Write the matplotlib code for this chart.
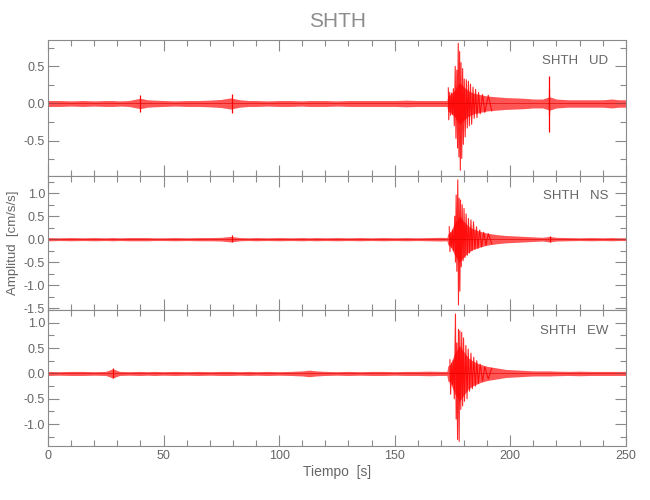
import numpy as np
import matplotlib
matplotlib.use("Agg")
import matplotlib.pyplot as plt
from matplotlib.ticker import MultipleLocator, FormatStrFormatter

plt.rcParams['font.family'] = ['Liberation Sans Narrow', 'Liberation Sans', 'DejaVu Sans']

# envelope knots (s) and half-width of the background trace per component
t_env = [0, 5, 10, 15, 20, 25, 28, 31, 35, 40, 43, 46, 50, 55, 60, 65, 70, 75,
         79, 83, 87, 90, 95, 100, 105, 110, 113, 116, 120, 125, 130, 135, 140,
         145, 150, 155, 160, 165, 170, 172.6, 173, 174, 176, 178, 180, 182, 184, 187,
         190, 194, 198, 202, 206, 210, 214, 217, 220, 225, 230, 235, 240, 244,
         247, 250]

ud_env = [0.04, 0.04, 0.035, 0.04, 0.035, 0.04,
          0.04, 0.035, 0.04,
          0.07, 0.05, 0.045,
          0.04, 0.035, 0.04, 0.04, 0.045, 0.055,
          0.075, 0.05, 0.04, 0.04, 0.035,
          0.04, 0.04, 0.035, 0.04, 0.04,
          0.04, 0.035, 0.04, 0.04, 0.04,
          0.04, 0.04, 0.045, 0.04, 0.04, 0.04, 0.04,
          0.10, 0.12, 0.18, 0.28, 0.22,
          0.17, 0.14, 0.12, 0.10, 0.09,
          0.08, 0.075, 0.07, 0.06, 0.06,
          0.09, 0.06, 0.05, 0.05, 0.05,
          0.05, 0.06, 0.05, 0.05]

ns_env = [0.035, 0.03, 0.035, 0.03, 0.035, 0.03,
          0.035, 0.03, 0.035,
          0.035, 0.035, 0.03,
          0.03, 0.035, 0.03, 0.035, 0.035, 0.04,
          0.06, 0.035, 0.03, 0.035, 0.03,
          0.035, 0.03, 0.035, 0.03, 0.035,
          0.03, 0.035, 0.03, 0.035, 0.03,
          0.035, 0.03, 0.035, 0.03, 0.035, 0.04, 0.035,
          0.12, 0.15, 0.35, 0.5, 0.38,
          0.28, 0.22, 0.17, 0.13, 0.10,
          0.08, 0.07, 0.06, 0.05, 0.04,
          0.06, 0.04, 0.035, 0.03, 0.035,
          0.03, 0.035, 0.03, 0.03]

ew_env = [0.04, 0.035, 0.04, 0.04, 0.035, 0.04,
          0.09, 0.04, 0.035,
          0.04, 0.035, 0.04,
          0.035, 0.04, 0.035, 0.04, 0.035, 0.04,
          0.04, 0.035, 0.04, 0.035, 0.04,
          0.035, 0.04, 0.05, 0.065, 0.05,
          0.04, 0.035, 0.04, 0.035, 0.04,
          0.04, 0.035, 0.04, 0.04, 0.045, 0.04, 0.04,
          0.15, 0.18, 0.40, 0.55, 0.42,
          0.30, 0.24, 0.18, 0.14, 0.11,
          0.08, 0.07, 0.06, 0.05, 0.05,
          0.05, 0.045, 0.04, 0.045, 0.04,
          0.04, 0.04, 0.04, 0.04]

# main event peaks (time s, amplitude cm/s/s)
ud_pk_t = [173.2, 173.4, 173.8, 174.2, 174.6, 175.0, 175.4, 175.8, 176.2, 176.5,
           176.9, 177.2, 177.5, 177.8, 178.1, 178.4, 178.7, 179.0, 179.4, 179.7,
           180.1, 180.5, 181.0, 181.4, 181.9, 182.3, 182.8, 183.3, 183.9, 184.4,
           185.0, 185.6, 186.3, 187.0, 188.0, 189.0, 190.5, 192.0]
ud_pk_v = [0.21, -0.22, 0.15, -0.16, 0.14, -0.15, 0.20, -0.30, 0.50, -0.47,
           0.45, -0.60, 0.81, -0.72, 0.70, -0.90, 0.55, -0.74, 0.47, -0.55,
           0.33, -0.45, 0.32, -0.33, 0.30, -0.30, 0.26, -0.28, 0.22, -0.20,
           0.19, -0.19, 0.15, -0.14, 0.12, -0.12, 0.11, -0.10]

ns_pk_t = [173.6, 173.9, 174.3, 174.7, 175.1, 175.5, 176.0, 176.3, 176.6, 176.9,
           177.3, 177.6, 177.9, 178.2, 178.5, 178.8, 179.2, 179.6, 180.0, 180.4,
           180.9, 181.4, 181.9, 182.4, 183.0, 183.5, 184.1, 184.7, 185.4, 186.0,
           186.8, 187.6, 188.5, 189.5, 190.5, 192.0]
ns_pk_v = [0.27, -0.27, 0.15, -0.18, 0.20, -0.25, 0.50, -0.50, 0.96, -0.70,
           1.29, -1.43, 0.89, -1.13, 0.85, -0.60, 0.75, -0.47, 0.67, -0.40,
           0.55, -0.35, 0.45, -0.30, 0.42, -0.25, 0.38, -0.22, 0.27, -0.20,
           0.20, -0.17, 0.15, -0.13, 0.12, -0.10]

ew_pk_t = [173.9, 174.2, 174.6, 175.0, 175.4, 175.8, 176.3, 176.6, 176.9, 177.2,
           177.6, 177.9, 178.2, 178.6, 179.0, 179.4, 179.8, 180.2, 180.8, 181.3,
           181.8, 182.4, 183.0, 183.6, 184.2, 184.9, 185.5, 186.2, 187.0, 188.0,
           189.0, 190.5, 192.0]
ew_pk_v = [0.27, -0.41, 0.20, -0.22, 0.25, -0.50, 1.17, -0.90, 0.60, -1.30,
           0.87, -1.34, 0.84, -0.71, 0.81, -0.64, 0.70, -0.55, 0.55, -0.50,
           0.48, -0.35, 0.40, -0.30, 0.32, -0.25, 0.25, -0.20, 0.18, -0.15,
           0.13, -0.11, 0.10]

# isolated spikes (time, max, min)
ud_sp_t, ud_sp_hi, ud_sp_lo = [39.8, 79.5, 216.6, 216.8], [0.11, 0.13, 0.2, 0.37], [-0.11, -0.13, -0.15, -0.38]
ns_sp_t, ns_sp_hi, ns_sp_lo = [79.5, 217.0], [0.08, 0.06], [-0.07, -0.06]
ew_sp_t, ew_sp_hi, ew_sp_lo = [28.0], [0.10], [-0.09]

station = 'SHTH'
comps = ['UD', 'NS', 'EW']
ylims = [(-0.97, 0.855), (-1.53, 1.385), (-1.43, 1.26)]

GRAY = '#8a8a8a'
TXT = '#666666'

fig = plt.figure(figsize=(6.5, 5.0), dpi=100)
boxes = [(0.0738, 0.649, 0.889, 0.271),
         (0.0738, 0.381, 0.889, 0.268),
         (0.0738, 0.108, 0.889, 0.273)]

data = [(ud_env, ud_pk_t, ud_pk_v, ud_sp_t, ud_sp_hi, ud_sp_lo),
        (ns_env, ns_pk_t, ns_pk_v, ns_sp_t, ns_sp_hi, ns_sp_lo),
        (ew_env, ew_pk_t, ew_pk_v, ew_sp_t, ew_sp_hi, ew_sp_lo)]

t_env = np.array(t_env)
for i, (box, comp, yl, d) in enumerate(zip(boxes, comps, ylims, data)):
    env, pk_t, pk_v, sp_t, sp_hi, sp_lo = d
    env = np.array(env)
    ax = fig.add_axes(box)
    ax.fill_between(t_env, -env, env, color='#ff2a2a', lw=0, alpha=0.8)
    ax.plot(pk_t, pk_v, color='red', lw=0.8, alpha=0.85)
    ax.vlines(sp_t, sp_lo, sp_hi, color='red', lw=0.9)
    ax.axhline(0, color='#dd0000', lw=0.7, alpha=0.6)

    ax.set_xlim(0, 250)
    ax.set_ylim(*yl)
    ax.xaxis.set_major_locator(MultipleLocator(50))
    ax.xaxis.set_minor_locator(MultipleLocator(10))
    ax.yaxis.set_major_locator(MultipleLocator(0.5))
    ax.yaxis.set_minor_locator(MultipleLocator(0.25))
    ax.yaxis.set_major_formatter(FormatStrFormatter('%.1f'))
    ax.tick_params(which='both', direction='in', top=True, right=True,
                   colors=GRAY, labelcolor=TXT, labelsize=9, width=0.8)
    ax.tick_params(which='major', length=8)
    ax.tick_params(which='minor', length=4)
    ax.tick_params(axis='y', pad=2)
    ax.tick_params(axis='x', pad=3)
    for s in ax.spines.values():
        s.set_color(GRAY)
        s.set_linewidth(0.8)
    if i < 2:
        ax.tick_params(labelbottom=False)
    else:
        ax.set_xlabel('Tiempo  [s]', color=TXT, fontsize=10, labelpad=2)
    if i == 1:
        ax.set_ylabel('Amplitud  [cm/s/s]', color=TXT, fontsize=9.5)
        ax.yaxis.set_label_coords(-0.05, 0.5)
    ax.text(0.97, 0.845, f'{station}   {comp}', transform=ax.transAxes,
            ha='right', va='center', color=TXT, fontsize=9.5)

fig.text(0.52, 0.957, station, ha='center', va='center', color='#8c8c8c', fontsize=15)

fig.savefig('out.png', dpi=100)
